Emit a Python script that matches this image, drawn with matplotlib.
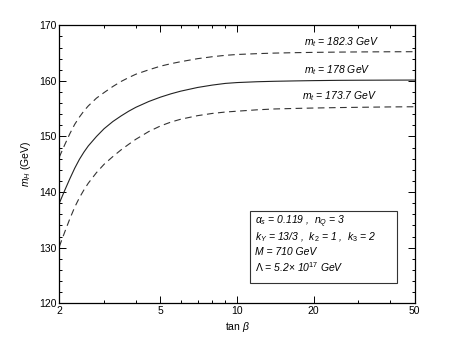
import matplotlib
matplotlib.use('Agg')
import matplotlib.pyplot as plt
from matplotlib.patches import Rectangle
from matplotlib.ticker import FixedLocator, NullFormatter, MultipleLocator

plt.rcParams['font.family'] = 'Liberation Sans'
plt.rcParams['mathtext.fontset'] = 'custom'
plt.rcParams['mathtext.rm'] = 'Liberation Sans'
plt.rcParams['mathtext.it'] = 'Liberation Sans:italic'
plt.rcParams['mathtext.sf'] = 'Liberation Sans'

# values
tanb = [2.0, 2.1, 2.2, 2.3, 2.4, 2.5, 2.6, 2.8, 3.0, 3.25, 3.5, 3.75, 4.0, 4.5,
        5.0, 5.5, 6.0, 7.0, 8.0, 9.0, 10, 12, 14, 17, 20, 25, 30, 40, 50]

mh_mid = [138.0, 140.3, 142.4, 144.3, 145.9, 147.2, 148.3, 150.0, 151.4, 152.7,
          153.7, 154.55, 155.25, 156.3, 157.08, 157.68, 158.15, 158.82, 159.25,
          159.55, 159.7, 159.85, 159.93, 160.0, 160.05, 160.1, 160.12, 160.14, 160.15]

mh_up = [146.3, 148.5, 150.5, 152.2, 153.5, 154.6, 155.5, 156.9, 157.9, 159.0,
         159.9, 160.6, 161.2, 162.0, 162.65, 163.1, 163.45, 164.0, 164.35,
         164.6, 164.75, 164.9, 165.0, 165.08, 165.13, 165.18, 165.21, 165.24, 165.25]

mh_lo = [130.2, 132.8, 135.2, 137.3, 139.0, 140.4, 141.6, 143.5, 145.0, 146.4,
         147.6, 148.6, 149.5, 150.9, 151.9, 152.6, 153.1, 153.75, 154.15,
         154.4, 154.55, 154.8, 154.95, 155.05, 155.12, 155.2, 155.25, 155.32, 155.35]

labels = ['$m_t$ = 182.3 GeV', '$m_t$ = 178 GeV', '$m_t$ = 173.7 GeV']
label_x = [25.7, 24.8, 25.4]
label_y = [167.0, 162.0, 157.3]

params = ['$\\alpha_s$ = 0.119 ,  $n_Q$ = 3',
          '$k_Y$ = 13/3 ,  $k_2$ = 1 ,  $k_3$ = 2',
          'M = 710 GeV',
          '$\\Lambda$ = 5.2$\\times$ 10$^{17}$ GeV']

fig = plt.figure(figsize=(4.58, 3.41), dpi=100)
ax = fig.add_axes([0.1295, 0.1106, 0.776, 0.8152])

ax.plot(tanb, mh_mid, '-', color='#222222', linewidth=0.8)
ax.plot(tanb, mh_up, '--', color='#333333', linewidth=0.8, dashes=(6, 4))
ax.plot(tanb, mh_lo, '--', color='#333333', linewidth=0.8, dashes=(6, 4))

ax.set_xscale('log')
ax.set_xlim(2, 50)
ax.set_ylim(120, 170)
ax.xaxis.set_major_locator(FixedLocator([2, 5, 10, 20, 50]))
ax.xaxis.set_minor_locator(FixedLocator([3, 4, 6, 7, 8, 9, 30, 40]))
ax.xaxis.set_minor_formatter(NullFormatter())
ax.set_xticklabels(['2', '5', '10', '20', '50'])
ax.yaxis.set_major_locator(MultipleLocator(10))
ax.yaxis.set_minor_locator(MultipleLocator(2))
ax.tick_params(which='both', direction='in', top=True, right=True, labelsize=7.5, width=0.7)
ax.tick_params(which='major', length=5, pad=2)
ax.tick_params(which='minor', length=2.5)
for s in ax.spines.values():
    s.set_linewidth(0.9)

ax.set_xlabel(r'tan $\beta$', fontsize=7.5, labelpad=3)
ax.set_ylabel('$m_H$ (GeV)', fontsize=7.5, labelpad=4)

for lab, x, y in zip(labels, label_x, label_y):
    ax.text(x, y, lab, fontsize=7.5, style='italic', ha='center', va='center')

# parameter box
ax.add_patch(Rectangle((0.537, 0.074), 0.414, 0.258, transform=ax.transAxes,
                       facecolor='white', edgecolor='#333333', linewidth=0.8, zorder=3))
for i, line in enumerate(params):
    ax.text(0.551, 0.2935 - i * 0.054, line, transform=ax.transAxes, fontsize=7.5,
            style='italic', ha='left', va='center', zorder=4)

fig.savefig('out.png', dpi=100)
